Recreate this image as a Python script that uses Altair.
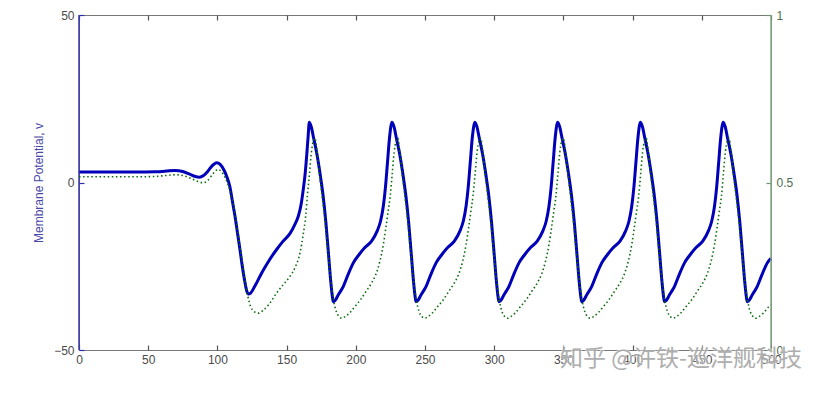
import altair as alt
import pandas as pd

# ---------------- data ----------------
x_ticks = [0, 50, 100, 150, 200, 250, 300, 350, 400, 450, 500]
left_ticks = [-50, 0, 50]
right_ticks = [0, 0.5, 1]
watermark = ["知乎 @许铁-巡洋舰科技"]

# membrane potential v (left axis)
blue_t = [
    0, 20, 40, 55, 63, 69, 75, 80, 84, 87, 90, 93, 96, 99.5, 102, 105, 107, 109, 111, 112.7,
    114.5, 116.3, 118, 120, 121.3, 122.3, 124, 127, 132, 137, 142.8, 147.5, 152.5, 156, 158.5,
    160.5, 162, 163.5, 164.7, 165.6,
    166.4, 167.9, 169.4, 171.9, 174.4, 176.4, 178.4, 180.4, 181.9, 182.9, 183.7, 184.9, 187.4,
    191.0, 194.4, 198.2, 202.4, 206.4, 211.4, 215.4, 217.9, 219.9, 221.4, 222.9, 224.4,
    226.2, 227.7, 229.2, 231.7, 234.2, 236.2, 238.2, 240.2, 241.7, 242.7, 243.5, 244.7, 247.2,
    250.8, 254.2, 258.0, 262.2, 266.2, 271.2, 275.2, 277.7, 279.7, 281.2, 282.7, 284.2,
    286.1, 287.6, 289.1, 291.6, 294.1, 296.1, 298.1, 300.1, 301.6, 302.6, 303.4, 304.6, 307.1,
    310.7, 314.1, 317.9, 322.1, 326.1, 331.1, 335.1, 337.6, 339.6, 341.1, 342.6, 344.1,
    345.9, 347.4, 348.9, 351.4, 353.9, 355.9, 357.9, 359.9, 361.4, 362.4, 363.2, 364.4, 366.9,
    370.5, 373.9, 377.7, 381.9, 385.9, 390.9, 394.9, 397.4, 399.4, 400.9, 402.4, 403.9,
    405.7, 407.2, 408.7, 411.2, 413.7, 415.7, 417.7, 419.7, 421.2, 422.2, 423.0, 424.2, 426.7,
    430.3, 433.7, 437.5, 441.7, 445.7, 450.7, 454.7, 457.2, 459.2, 460.7, 462.2, 463.7,
    465.5, 467.0, 468.5, 471.0, 473.5, 475.5, 477.5, 479.5, 481.0, 482.0, 482.8, 484.0, 486.5,
    490.1, 493.5, 497.3, 500,
]
blue_v = [
    3.1, 3.1, 3.1, 3.2, 3.4, 3.6, 3.3, 2.5, 1.8, 1.6, 2.1, 3.3, 4.9, 5.9, 5.4, 3.5, 1.5, -1.2, -6, -10,
    -15, -20, -25, -30, -32.5, -33.3, -33, -31, -27, -23.5, -20, -17.5, -15.2, -12.5, -10,
    -6.5, -2.2, 3, 9, 14,
    18, 16.5, 13.5, 8.5, 2, -4, -12, -22, -29.5, -33.5, -35.6, -35.3, -33.5,
    -31, -27.5, -24, -21.5, -19.5, -17.5, -14.5, -11.5, -7, -1.5, 6, 13.5,
    18, 16.5, 13.5, 8.5, 2, -4, -12, -22, -29.5, -33.5, -35.6, -35.3, -33.5,
    -31, -27.5, -24, -21.5, -19.5, -17.5, -14.5, -11.5, -7, -1.5, 6, 13.5,
    18, 16.5, 13.5, 8.5, 2, -4, -12, -22, -29.5, -33.5, -35.6, -35.3, -33.5,
    -31, -27.5, -24, -21.5, -19.5, -17.5, -14.5, -11.5, -7, -1.5, 6, 13.5,
    18, 16.5, 13.5, 8.5, 2, -4, -12, -22, -29.5, -33.5, -35.6, -35.3, -33.5,
    -31, -27.5, -24, -21.5, -19.5, -17.5, -14.5, -11.5, -7, -1.5, 6, 13.5,
    18, 16.5, 13.5, 8.5, 2, -4, -12, -22, -29.5, -33.5, -35.6, -35.3, -33.5,
    -31, -27.5, -24, -21.5, -19.5, -17.5, -14.5, -11.5, -7, -1.5, 6, 13.5,
    18, 16.5, 13.5, 8.5, 2, -4, -12, -22, -29.5, -33.5, -35.6, -35.3, -33.5,
    -31, -27.5, -24, -22.6,
]

# recovery variable (right axis, 0..1)
green_t = [
    0, 20, 40, 55, 63, 70, 76, 81, 86, 89.8, 93, 96, 98.5, 100.5, 103, 105.5, 108, 110, 112.5,
    115, 117.5, 120, 122, 124, 126.5, 129.6, 133, 137, 142.8, 147.5, 152.5, 156.5, 159.7, 162,
    163.8, 165,
    166.4, 167.9, 169.4, 170.6, 171.9, 173.9, 175.9, 177.9, 179.9, 181.9, 183.9, 185.9, 187.9,
    189.9, 192.4, 195.4, 199.4, 203.4, 207.4, 211.4, 214.4, 217.4, 219.9, 221.9, 223.4, 224.9,
    226.2, 227.7, 229.2, 230.4, 231.7, 233.7, 235.7, 237.7, 239.7, 241.7, 243.7, 245.7, 247.7,
    249.7, 252.2, 255.2, 259.2, 263.2, 267.2, 271.2, 274.2, 277.2, 279.7, 281.7, 283.2, 284.7,
    286.1, 287.6, 289.1, 290.3, 291.6, 293.6, 295.6, 297.6, 299.6, 301.6, 303.6, 305.6, 307.6,
    309.6, 312.1, 315.1, 319.1, 323.1, 327.1, 331.1, 334.1, 337.1, 339.6, 341.6, 343.1, 344.6,
    345.9, 347.4, 348.9, 350.1, 351.4, 353.4, 355.4, 357.4, 359.4, 361.4, 363.4, 365.4, 367.4,
    369.4, 371.9, 374.9, 378.9, 382.9, 386.9, 390.9, 393.9, 396.9, 399.4, 401.4, 402.9, 404.4,
    405.7, 407.2, 408.7, 409.9, 411.2, 413.2, 415.2, 417.2, 419.2, 421.2, 423.2, 425.2, 427.2,
    429.2, 431.7, 434.7, 438.7, 442.7, 446.7, 450.7, 453.7, 456.7, 459.2, 461.2, 462.7, 464.2,
    465.5, 467.0, 468.5, 469.7, 471.0, 473.0, 475.0, 477.0, 479.0, 481.0, 483.0, 485.0, 487.0,
    489.0, 491.5, 494.5, 498.5, 500,
]
green_w = [
    0.517, 0.517, 0.517, 0.518, 0.521, 0.523, 0.52, 0.512, 0.503, 0.499, 0.506, 0.522, 0.534,
    0.539, 0.532, 0.515, 0.49, 0.46, 0.41, 0.345, 0.275, 0.205, 0.16, 0.13, 0.115, 0.11, 0.118,
    0.135, 0.17, 0.195, 0.22, 0.25, 0.29, 0.345, 0.4, 0.46,
    0.52, 0.59, 0.625, 0.632, 0.595, 0.52, 0.45, 0.38, 0.29, 0.21, 0.15, 0.115, 0.10,
    0.095, 0.10, 0.11, 0.13, 0.15, 0.175, 0.20, 0.225, 0.265, 0.315, 0.37, 0.415, 0.46,
    0.52, 0.59, 0.625, 0.632, 0.595, 0.52, 0.45, 0.38, 0.29, 0.21, 0.15, 0.115, 0.10,
    0.095, 0.10, 0.11, 0.13, 0.15, 0.175, 0.20, 0.225, 0.265, 0.315, 0.37, 0.415, 0.46,
    0.52, 0.59, 0.625, 0.632, 0.595, 0.52, 0.45, 0.38, 0.29, 0.21, 0.15, 0.115, 0.10,
    0.095, 0.10, 0.11, 0.13, 0.15, 0.175, 0.20, 0.225, 0.265, 0.315, 0.37, 0.415, 0.46,
    0.52, 0.59, 0.625, 0.632, 0.595, 0.52, 0.45, 0.38, 0.29, 0.21, 0.15, 0.115, 0.10,
    0.095, 0.10, 0.11, 0.13, 0.15, 0.175, 0.20, 0.225, 0.265, 0.315, 0.37, 0.415, 0.46,
    0.52, 0.59, 0.625, 0.632, 0.595, 0.52, 0.45, 0.38, 0.29, 0.21, 0.15, 0.115, 0.10,
    0.095, 0.10, 0.11, 0.13, 0.15, 0.175, 0.20, 0.225, 0.265, 0.315, 0.37, 0.415, 0.46,
    0.52, 0.59, 0.625, 0.632, 0.595, 0.52, 0.45, 0.38, 0.29, 0.21, 0.15, 0.115, 0.10,
    0.095, 0.10, 0.11, 0.13, 0.135,
]

blue_df = pd.DataFrame({"t": blue_t, "v": blue_v})
green_df = pd.DataFrame({"t": green_t, "w": green_w})
left_edge = pd.DataFrame({"t": [x_ticks[0]], "lo": [left_ticks[0]], "hi": [left_ticks[-1]]})
right_edge = pd.DataFrame({"t": [x_ticks[-1]], "lo": [right_ticks[0]], "hi": [right_ticks[-1]]})
wm_df = pd.DataFrame({"label": watermark})

BLUE = "#0000b8"
GREEN = "#0b6b0b"
FONT = "Liberation Sans"

xscale = alt.Scale(domain=[0, 500], nice=False, zero=False)
lscale = alt.Scale(domain=[-50, 50], nice=False, zero=False)
rscale = alt.Scale(domain=[0, 1], nice=False, zero=False)

blue_line = alt.Chart(blue_df).mark_line(
    color=BLUE, strokeWidth=3, interpolate="monotone"
).encode(
    x=alt.X("t:Q", scale=xscale, axis=alt.Axis(
        orient="bottom", values=x_ticks, offset=-5, tickSize=5, domain=False, grid=False,
        labelPadding=4, labelFontSize=12, labelColor="#4a4a4a", tickColor="#555555",
        tickWidth=1.2, labelFlush=False, labelOverlap=False,
        labelFont=FONT, title=None)),
    y=alt.Y("v:Q", scale=lscale, axis=alt.Axis(
        orient="left", values=left_ticks, offset=-5, tickSize=5, domain=False, grid=False,
        labelPadding=5, labelFontSize=12, labelColor="#4a4a4a", tickColor="#3030a8",
        tickWidth=1.2, labelFlush=False, labelOverlap=False,
        labelFont=FONT, title="Membrane Potential, v", titleColor="#4848a8",
        titleFont=FONT, titleFontSize=12, titleFontWeight="normal", titlePadding=8)),
)

left_rule = alt.Chart(left_edge).mark_rule(color="#3434ac", strokeWidth=1.5).encode(
    x=alt.X("t:Q", scale=xscale, axis=None),
    y=alt.Y("lo:Q", scale=lscale, axis=None),
    y2="hi:Q",
)

green_line = alt.Chart(green_df).mark_line(
    color=GREEN, strokeWidth=1.6, strokeDash=[1.5, 2.6], interpolate="monotone"
).encode(
    x=alt.X("t:Q", scale=xscale, axis=alt.Axis(
        orient="top", values=x_ticks, offset=-5, tickSize=5, domain=False, grid=False,
        labels=False, tickColor="#555555", tickWidth=1.2, title=None)),
    y=alt.Y("w:Q", scale=rscale, axis=alt.Axis(
        orient="right", values=right_ticks, offset=-5, tickSize=5, domain=False, grid=False,
        format="~g", labelPadding=5, labelFontSize=12, labelColor="#4d6e4d",
        tickColor="#6f946f", tickWidth=1.2, labelFlush=False, labelOverlap=False,
        labelFont=FONT, title=None)),
)

right_rule = alt.Chart(right_edge).mark_rule(color="#86a886", strokeWidth=1.5).encode(
    x=alt.X("t:Q", scale=xscale, axis=None),
    y=alt.Y("lo:Q", scale=rscale, axis=None),
    y2="hi:Q",
)

# watermark: faint white halo underneath, grey glyphs on top
wm_halo = alt.Chart(wm_df).mark_text(
    align="right", baseline="middle", font="Noto Sans CJK SC", fontSize=23,
    color="white", stroke="white", strokeWidth=2, opacity=0.5
).encode(
    text="label:N",
    x=alt.value(723),
    y=alt.value(344),
)
wm = alt.Chart(wm_df).mark_text(
    align="right", baseline="middle", font="Noto Sans CJK SC", fontSize=23,
    color="#a6a6a6", opacity=0.9
).encode(
    text="label:N",
    x=alt.value(723),
    y=alt.value(344),
)

chart = alt.layer(blue_line, left_rule, green_line, right_rule, wm_halo, wm).resolve_scale(
    y="independent"
).resolve_axis(
    x="independent", y="independent"
).properties(
    width=692,
    height=335,
    autosize=alt.AutoSizeParams(type="none"),
    padding={"left": 79, "top": 15, "right": 51, "bottom": 45},
    background="white",
).configure_view(
    stroke="#777777", strokeWidth=1
)

chart.save("out.html", embed_options={"renderer": "svg", "actions": False})
